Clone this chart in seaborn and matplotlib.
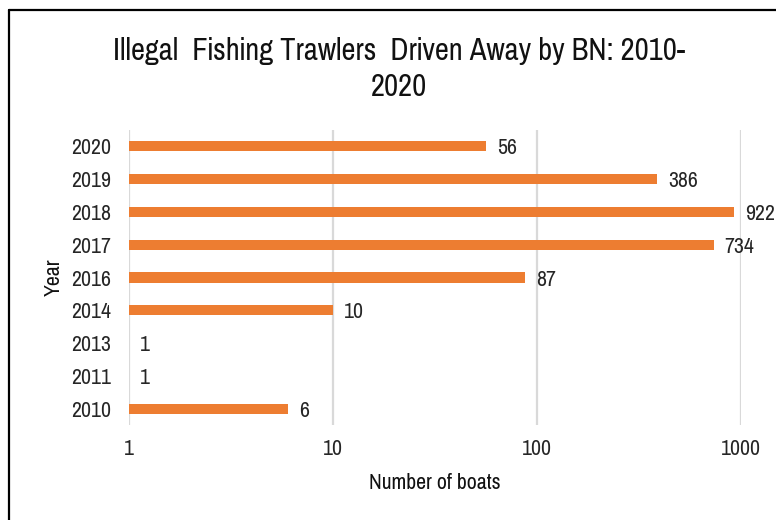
import matplotlib
matplotlib.use("Agg")
import matplotlib.pyplot as plt
from matplotlib.lines import Line2D
import matplotlib.ticker as mticker
import seaborn as sns
import pandas as pd

years = ["2020", "2019", "2018", "2017", "2016", "2014", "2013", "2011", "2010"]
boats = [56, 386, 922, 734, 87, 10, 1, 1, 6]
x_ticks = [1, 10, 100, 1000]
x_tick_labels = ["1", "10", "100", "1000"]
title = "Illegal  Fishing Trawlers  Driven Away by BN: 2010-\n2020"

sns.set_theme(style="white")
plt.rcParams["font.family"] = ["Pragati Narrow", "Roboto Condensed", "DejaVu Sans"]

df = pd.DataFrame({"Year": years, "Boats": boats})

W, H = 776, 520
fig = plt.figure(figsize=(W / 100, H / 100), dpi=100)
ax = fig.add_axes([129 / W, 1 - 425 / H, (741 - 129) / W, (425 - 130) / H])

sns.barplot(data=df, x="Boats", y="Year", order=years, orient="h",
            color="#ED7D31", saturation=1, width=0.31, ax=ax, linewidth=0)
ax.set_xscale("log")

ax.set_xlim(1, 1000)
ax.set_ylim(len(years) - 0.5, -0.5)
ax.set_xticks(x_ticks)
ax.set_xticklabels(x_tick_labels)
ax.xaxis.set_minor_locator(mticker.NullLocator())
ax.grid(axis="x", color="#D9D9D9", linewidth=1.6)
ax.grid(axis="y", visible=False)
ax.set_axisbelow(True)
for s in ax.spines.values():
    s.set_visible(False)
ax.tick_params(axis="both", length=0, labelsize=17, colors="#262626")
ax.tick_params(axis="y", pad=13)
ax.tick_params(axis="x", pad=10)

ax.set_xlabel("Number of boats", fontsize=17, color="#111111", labelpad=10)
ax.set_ylabel("Year", fontsize=17, color="#111111", labelpad=5)

for cont in ax.containers:
    texts = ax.bar_label(cont, labels=[str(v) for v in boats], padding=8,
                         fontsize=17, color="#262626", clip_on=False)
    for t in texts:
        t.set_va("center_baseline")

fig.text(399 / W, 1 - 69 / H, title, ha="center", va="center",
         fontsize=24, color="#111111", linespacing=1.38)

fig.add_artist(Line2D([9 / W, 9 / W], [0, 1 - 10 / H], transform=fig.transFigure,
                      color="black", linewidth=1.6))
fig.add_artist(Line2D([9 / W, 1], [1 - 10 / H, 1 - 10 / H], transform=fig.transFigure,
                      color="black", linewidth=1.6))

fig.savefig("out.png", dpi=100)
